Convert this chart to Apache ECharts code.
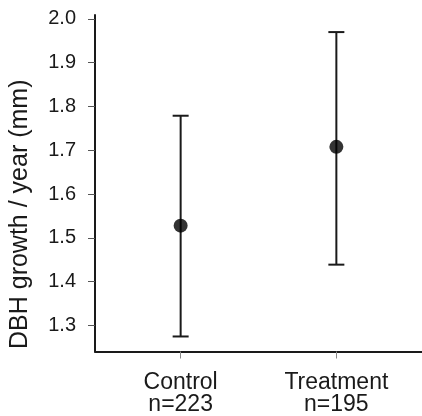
<!DOCTYPE html>
<html>
<head>
<meta charset="utf-8">
<script src="https://cdn.jsdelivr.net/npm/echarts@6/dist/echarts.min.js"></script>
<style>html,body{margin:0;padding:0;background:#fff}#c{width:422px;height:416px}</style>
</head>
<body>
<div id="c"></div>
<script>
const categories = ['Control', 'Treatment'];
const sampleSizes = ['n=223', 'n=195'];
const means = [1.528, 1.708];
const lows = [1.275, 1.439];
const highs = [1.779, 1.970];
const yTicks = [1.3, 1.4, 1.5, 1.6, 1.7, 1.8, 1.9, 2.0];

const chart = echarts.init(document.getElementById('c'), null, {renderer: 'canvas'});
const font = 'Liberation Sans, Arial, Helvetica, sans-serif';
const ink = '#1a1a1a';

chart.setOption({
  animation: false,
  backgroundColor: '#fff',
  grid: {left: 95, right: 0, top: 15, bottom: 64},
  xAxis: {
    type: 'value', min: -0.55, max: 1.55,
    splitLine: {show: false},
    axisLine: {show: true, onZero: false, lineStyle: {color: ink, width: 2}},
    axisTick: {show: true, length: 7, customValues: [0, 1], lineStyle: {color: '#888', width: 1}},
    axisLabel: {
      customValues: [0, 1], margin: 20,
      fontFamily: font, fontSize: 23, lineHeight: 22, color: ink,
      formatter: v => categories[Math.round(v)] + '\n' + sampleSizes[Math.round(v)]
    }
  },
  yAxis: {
    type: 'value', min: 1.2407, max: 2.009,
    splitLine: {show: false},
    axisLine: {show: true, onZero: false, lineStyle: {color: ink, width: 2}},
    axisTick: {show: true, length: 7, customValues: yTicks, lineStyle: {color: '#555', width: 1}},
    axisLabel: {
      customValues: yTicks, margin: 19,
      fontFamily: font, fontSize: 20, color: ink,
      formatter: v => v.toFixed(1)
    },
    name: 'DBH growth / year (mm)',
    nameLocation: 'middle', nameGap: 62,
    nameTextStyle: {fontFamily: font, fontSize: 25, color: ink, padding: [0, 62, 0, 0]}
  },
  series: [
    {
      type: 'custom',
      data: categories.map((c, i) => [i, lows[i], highs[i]]),
      renderItem: function (params, api) {
        const x = api.value(0);
        const lo = api.coord([x, api.value(1)]);
        const hi = api.coord([x, api.value(2)]);
        const hw = 8;
        const style = {stroke: ink, lineWidth: 2};
        return {
          type: 'group',
          children: [
            {type: 'line', shape: {x1: lo[0], y1: lo[1], x2: hi[0], y2: hi[1]}, style: style},
            {type: 'line', shape: {x1: lo[0] - hw, y1: lo[1], x2: lo[0] + hw, y2: lo[1]}, style: style},
            {type: 'line', shape: {x1: hi[0] - hw, y1: hi[1], x2: hi[0] + hw, y2: hi[1]}, style: style}
          ]
        };
      },
      z: 2
    },
    {
      type: 'scatter',
      data: means.map((m, i) => [i, m]),
      symbol: 'circle', symbolSize: 14,
      itemStyle: {color: '#000'},
      z: 3
    }
  ]
});
</script>
</body>
</html>
